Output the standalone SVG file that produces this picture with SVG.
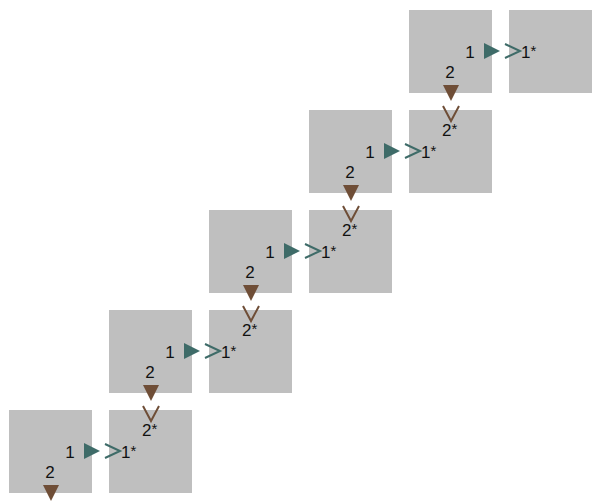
<svg xmlns="http://www.w3.org/2000/svg" xmlns:xlink="http://www.w3.org/1999/xlink" width="600" height="502" viewBox="0 0 600 502">
<style>
.sq{fill:#bfbfbf}
.t{font-family:"Liberation Sans",Arial,sans-serif;font-size:17px;fill:#111}
.s{font-size:15px}
.ft{fill:#3e6b68}
.fb{fill:#6f4e37}
.ct{fill:none;stroke:#3e6b68;stroke-width:2}
.cb{fill:none;stroke:#6f4e37;stroke-width:2}
</style>
<defs>
<g id="unit">
<rect class="sq" x="0" y="0" width="83" height="83"/>
<rect class="sq" x="100" y="0" width="83" height="83"/>
<text class="t" x="61" y="48" text-anchor="middle">1</text>
<text class="t" x="112" y="48">1<tspan class="s" dy="-2">*</tspan></text>
<text class="t" x="41" y="68" text-anchor="middle">2</text>
</g>
<g id="conn">
<polygon class="ft" points="75,33 91,41 75,49"/>
<polyline class="ct" points="96,34 111,41 96,48"/>
<polygon class="fb" points="34,75 50,75 42,91"/>
</g>
<g id="v">
<polyline class="cb" points="34,96 42,111 50,96"/>
<text class="t" x="33" y="126">2<tspan class="s" dy="-2">*</tspan></text>
</g>
</defs>
<g id="node-row0"><use xlink:href="#unit" x="409" y="10"/></g>
<g id="node-row1"><use xlink:href="#unit" x="309" y="110"/></g>
<g id="node-row2"><use xlink:href="#unit" x="209" y="210"/></g>
<g id="node-row3"><use xlink:href="#unit" x="109" y="310"/></g>
<g id="node-row4"><use xlink:href="#unit" x="9" y="410"/></g>
<g id="connectors">
<use xlink:href="#conn" x="409" y="10"/>
<use xlink:href="#conn" x="309" y="110"/>
<use xlink:href="#conn" x="209" y="210"/>
<use xlink:href="#conn" x="109" y="310"/>
<use xlink:href="#conn" x="9" y="410"/>
<use xlink:href="#v" x="409" y="10"/>
<use xlink:href="#v" x="309" y="110"/>
<use xlink:href="#v" x="209" y="210"/>
<use xlink:href="#v" x="109" y="310"/>
</g>
</svg>
